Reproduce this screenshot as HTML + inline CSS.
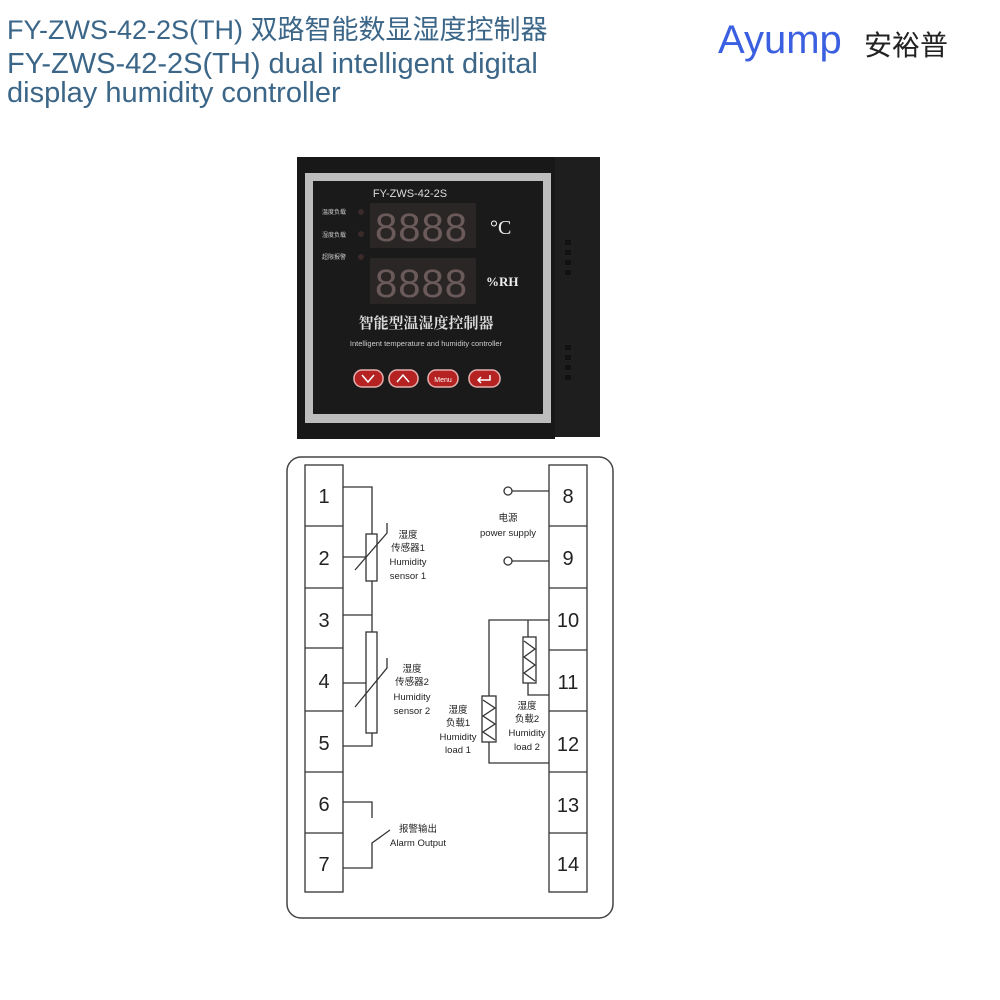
<!DOCTYPE html>
<html><head><meta charset="utf-8"><style>
body{margin:0;width:1000px;height:1000px;background:#fff;position:relative;overflow:hidden;font-family:"Liberation Sans","Noto Sans CJK SC",sans-serif}
.t{position:absolute;left:7px;color:#3b6688;font-size:29px;white-space:nowrap;line-height:1}
</style></head><body>
<div class="t" style="top:17px;font-size:27px">FY-ZWS-42-2S(TH) 双路智能数显湿度控制器</div>
<div class="t" style="top:50px">FY-ZWS-42-2S(TH) dual intelligent digital</div>
<div class="t" style="top:79px">display humidity controller</div>
<div style="position:absolute;left:718px;top:20px;font-size:40px;line-height:1;color:#3a5fe0;letter-spacing:0px">Ayump</div>
<div style="position:absolute;left:864px;top:32px;font-size:28px;line-height:1;color:#222">安裕普</div>

<svg width="1000" height="1000" style="position:absolute;left:0;top:0" font-family="Liberation Sans, Noto Sans CJK SC, sans-serif">
<rect x="553" y="157" width="47" height="280" fill="#1e1e1e"/>
<rect x="297" y="157" width="258" height="282" fill="#181818"/>
<rect x="305" y="173" width="246" height="250" fill="#bdbdbd"/>
<rect x="313" y="181" width="230" height="233" fill="#1a1a1a"/>
<g fill="#111"><rect x="565" y="240" width="6" height="5"/><rect x="565" y="250" width="6" height="5"/><rect x="565" y="260" width="6" height="5"/><rect x="565" y="270" width="6" height="5"/><rect x="565" y="345" width="6" height="5"/><rect x="565" y="355" width="6" height="5"/><rect x="565" y="365" width="6" height="5"/><rect x="565" y="375" width="6" height="5"/></g>
<text x="410" y="197" font-size="11" fill="#ddd" text-anchor="middle">FY-ZWS-42-2S</text>
<rect x="370" y="203" width="106" height="45" fill="#2b2626"/>
<rect x="370" y="258" width="106" height="46" fill="#2b2626"/>
<text x="423" y="241" font-size="40" fill="#6b5a5a" text-anchor="middle" letter-spacing="4" textLength="96">8888</text>
<text x="423" y="297" font-size="40" fill="#6b5a5a" text-anchor="middle" letter-spacing="4" textLength="96">8888</text>
<text x="490" y="234" font-size="20" fill="#eee" font-family="Liberation Serif">°C</text>
<text x="486" y="286" font-size="13" fill="#eee" font-family="Liberation Serif" font-weight="bold">%RH</text>
<g fill="#ccc" font-size="6"><text x="322" y="214">温度负载</text><text x="322" y="237">湿度负载</text><text x="322" y="259">超限报警</text></g>
<g fill="#3a2a2a"><circle cx="361" cy="212" r="3"/><circle cx="361" cy="234" r="3"/><circle cx="361" cy="257" r="3"/></g>
<text x="426" y="328" font-size="15" fill="#ddd" text-anchor="middle" font-weight="bold" font-family="Noto Serif CJK SC, serif">智能型温湿度控制器</text>
<text x="426" y="346" font-size="7.5" fill="#ccc" text-anchor="middle">Intelligent temperature and humidity controller</text>
<g fill="#b52222" stroke="#e6b0b0" stroke-width="1.5"><rect x="354" y="370" width="29" height="17" rx="8"/><rect x="389" y="370" width="29" height="17" rx="8"/><rect x="428" y="370" width="30" height="17" rx="8"/><rect x="469" y="370" width="31" height="17" rx="8"/></g>
<g stroke="#fff" stroke-width="1.5" fill="none"><path d="M362 375 L368 382 L374 375"/><path d="M397 382 L403 375 L409 382"/><path d="M490 375 L490 380 L478 380 M481 377 L478 380 L481 383"/></g>
<text x="443" y="382" font-size="7" fill="#fff" text-anchor="middle">Menu</text>

<rect x="287" y="457" width="326" height="461" rx="14" fill="none" stroke="#444" stroke-width="1.5"/>
<g fill="none" stroke="#333" stroke-width="1.3">
<rect x="305" y="465" width="38" height="427"/>
<rect x="549" y="465" width="38" height="427"/>
<path d="M305 526H343M305 588H343M305 648H343M305 711H343M305 772H343M305 833H343"/>
<path d="M549 526H587M549 588H587M549 650H587M549 711H587M549 772H587M549 833H587"/>
<path d="M343 487H372V534M372 581V632M343 615H372M343 557H366M343 683H366M343 746H372V733"/>
<rect x="366" y="534" width="11" height="47"/>
<rect x="366" y="632" width="11" height="101"/>
<path d="M355 570L387 533V523M355 707L387 668V658"/>
<path d="M343 802H372V818M343 868H372V843L390 830"/>
<circle cx="508" cy="491" r="4"/><circle cx="508" cy="561" r="4"/>
<path d="M512 491H549M512 561H549"/>
<path d="M549 620H489V696M489 742V763H549M528 620V637M528 683V695H549"/>
<rect x="482" y="696" width="14" height="46"/>
<rect x="523" y="637" width="13" height="46"/>
<path d="M483 700L495 708L483 716L495 724L483 732L495 740"/>
<path d="M524 641L535 649L524 657L535 665L524 673L535 681"/>
</g>
<g font-size="20" fill="#222" text-anchor="middle">
<text x="324" y="503">1</text><text x="324" y="565">2</text><text x="324" y="627">3</text><text x="324" y="688">4</text><text x="324" y="750">5</text><text x="324" y="811">6</text><text x="324" y="871">7</text>
<text x="568" y="503">8</text><text x="568" y="565">9</text><text x="568" y="627">10</text><text x="568" y="689">11</text><text x="568" y="751">12</text><text x="568" y="812">13</text><text x="568" y="871">14</text>
</g>
<g font-size="9.5" fill="#222" text-anchor="middle">
<text x="408" y="538">湿度</text><text x="408" y="551">传感器1</text><text x="408" y="565">Humidity</text><text x="408" y="579">sensor 1</text>
<text x="412" y="672">湿度</text><text x="412" y="685">传感器2</text><text x="412" y="700">Humidity</text><text x="412" y="714">sensor 2</text>
<text x="508" y="521">电源</text><text x="508" y="536">power supply</text>
<text x="458" y="713">湿度</text><text x="458" y="726">负载1</text><text x="458" y="740">Humidity</text><text x="458" y="753">load 1</text>
<text x="527" y="709">湿度</text><text x="527" y="722">负载2</text><text x="527" y="736">Humidity</text><text x="527" y="750">load 2</text>
<text x="418" y="832">报警输出</text><text x="418" y="846">Alarm Output</text>
</g>
</svg>
</body></html>
